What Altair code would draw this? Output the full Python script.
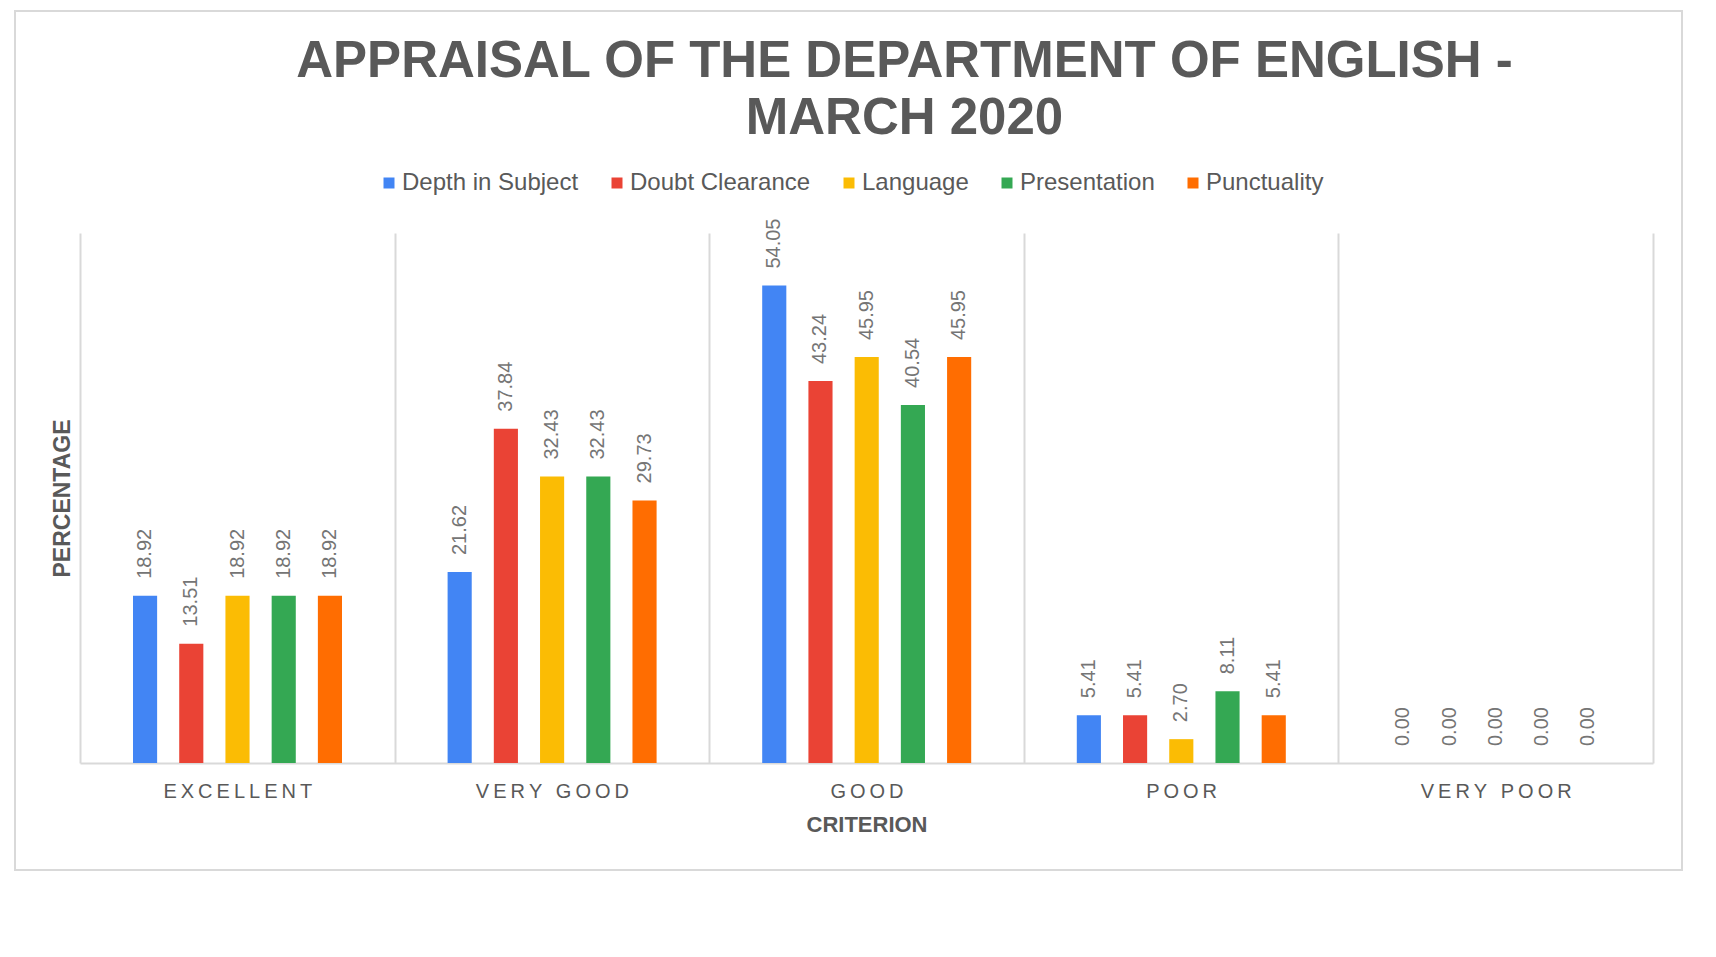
import altair as alt
import pandas as pd

categories = ["EXCELLENT", "VERY GOOD", "GOOD", "POOR", "VERY POOR"]
series = ["Depth in Subject", "Doubt Clearance", "Language", "Presentation", "Punctuality"]
depth = [18.92, 21.62, 54.05, 5.41, 0.00]
doubt = [13.51, 37.84, 43.24, 5.41, 0.00]
language = [18.92, 32.43, 45.95, 2.70, 0.00]
presentation = [18.92, 32.43, 40.54, 8.11, 0.00]
punctuality = [18.92, 29.73, 45.95, 5.41, 0.00]
colors = ["#4285F4", "#EA4335", "#FBBC04", "#34A853", "#FF6D01"]

rows = []
for s, vals in zip(series, [depth, doubt, language, presentation, punctuality]):
    for c, v in zip(categories, vals):
        rows.append({"criterion": c, "series": s, "value": v})
df = pd.DataFrame(rows)

W, H = 1573, 530
FONT = "Liberation Sans"

x = alt.X(
    "criterion:N",
    sort=categories,
    scale=alt.Scale(paddingInner=0, paddingOuter=0),
    axis=alt.Axis(
        title="CRITERION",
        tickBand="extent",
        grid=True,
        gridColor="#d9d9d9",
        gridWidth=2,
        domainColor="#d9d9d9",
        domainWidth=2,
        ticks=False,
        tickSize=0,
        labelAngle=0,
        labelFont=FONT,
        labelFontSize=20,
        labelColor="#595959",
        labelPadding=18,
        labelExpr="join(split(datum.label, ''), '\u2009')",
        titleFont=FONT,
        titleFontSize=22,
        titleFontWeight="bold",
        titleColor="#595959",
        titlePadding=13,
    ),
)
xoff = alt.XOffset(
    "series:N",
    sort=series,
    scale=alt.Scale(range=[53, 262], paddingInner=0.478, paddingOuter=0),
)
y = alt.Y(
    "value:Q",
    scale=alt.Scale(domain=[0, 60], nice=False),
    axis=alt.Axis(
        title="PERCENTAGE",
        labels=False,
        ticks=False,
        tickSize=0,
        domain=False,
        grid=False,
        titleFont=FONT,
        titleFontSize=23,
        titleFontWeight="bold",
        titleColor="#595959",
        titlePadding=6,
    ),
)

base = alt.Chart(df)

bars = base.mark_bar().encode(
    x=x,
    xOffset=xoff,
    y=y,
    color=alt.Color(
        "series:N",
        sort=series,
        scale=alt.Scale(domain=series, range=colors),
        legend=alt.Legend(
            title=None,
            orient="none",
            direction="horizontal",
            legendX=297,
            legendY=-62,
            symbolType="square",
            symbolSize=121,
            symbolStrokeWidth=0,
            labelFont=FONT,
            labelFontSize=24,
            labelColor="#595959",
            labelOffset=1,
            labelLimit=400,
            columnPadding=26,
        ),
    ),
)

labels = base.mark_text(
    angle=270,
    align="left",
    baseline="middle",
    dx=17,
    font=FONT,
    fontSize=20,
    color="#757575",
).encode(
    x=x,
    xOffset=xoff,
    y=y,
    text=alt.Text("value:Q", format=".2f"),
)

frame = alt.Chart(pd.DataFrame({"a": [0]})).mark_rect(
    fillOpacity=0, stroke="#d9d9d9", strokeWidth=2
).encode(
    x=alt.value(-65), x2=alt.value(1602), y=alt.value(-222), y2=alt.value(637)
)

chart = alt.layer(frame, bars, labels).properties(
    width=W,
    height=H,
    autosize=alt.AutoSizeParams(type="none"),
    padding={"left": 72, "top": 225, "right": 55, "bottom": 130},
    title=alt.TitleParams(
        text=["APPRAISAL OF THE DEPARTMENT OF ENGLISH -", "MARCH 2020"],
        font=FONT,
        fontSize=51,
        fontWeight="bold",
        color="#595959",
        anchor="middle",
        lineHeight=57,
        offset=0,
        dy=135,
        dx=38,
    ),
    background="white",
).configure_view(strokeWidth=0)

chart.save("out.html", embed_options={"renderer": "svg", "actions": False})
